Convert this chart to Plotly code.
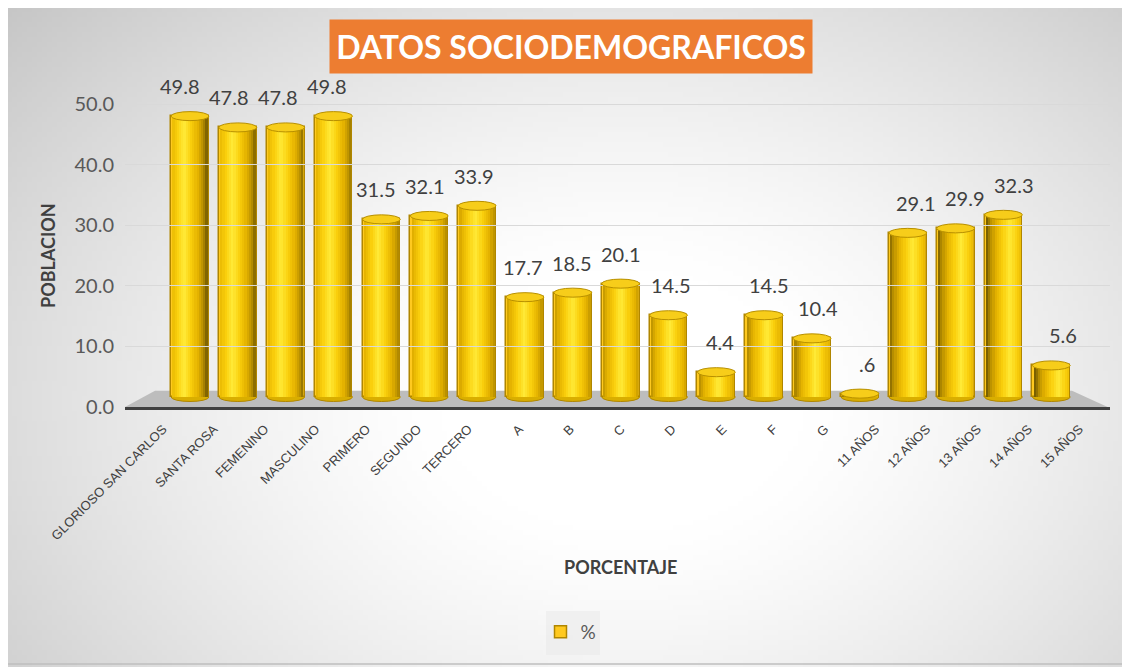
import plotly.graph_objects as go
import zlib, struct, base64, math

# ---------------- data ----------------
categories = ["GLORIOSO SAN CARLOS", "SANTA ROSA", "FEMENINO", "MASCULINO", "PRIMERO",
              "SEGUNDO", "TERCERO", "A", "B", "C", "D", "E", "F", "G",
              "11 AÑOS", "12 AÑOS", "13 AÑOS", "14 AÑOS", "15 AÑOS"]
values = [49.8, 47.8, 47.8, 49.8, 31.5, 32.1, 33.9, 17.7, 18.5, 20.1,
          14.5, 4.4, 14.5, 10.4, 0.6, 29.1, 29.9, 32.3, 5.6]
y_ticks = [0, 10, 20, 30, 40, 50]
series_name = "%"
title_text = "DATOS SOCIODEMOGRAFICOS"
x_title = "PORCENTAJE"
y_title = "POBLACION"

value_labels = [f"{v:.1f}".lstrip("0") for v in values]
n = len(categories)
idx = list(range(n))

# ---------------- layout geometry (page px) ----------------
W, H = 1130, 667
OFF = 8                      # default body margin of the html page
L, R, T, B = 125, 1110, 80, 407


def xp(px):
    return (px - L) / (R - L)


def yp(py):
    return (B - py) / (B - T)


cat_px0, cat_step = 190.0, 47.85
x_range = [(L - cat_px0) / cat_step, (R - cat_px0) / cat_step]
lab_px0, lab_step = 163.0, 50.9
x2_range = [(L - lab_px0) / lab_step, (R - lab_px0) / lab_step]
y_range = [0, (B - T) / 6.06]
bar_px0, bar_scale = 397.0, 5.64
y2_range = [-(B - bar_px0) / bar_scale, (bar_px0 - T) / bar_scale]

BW = 0.79           # bar width (category units)
E = 0.8             # ellipse half height (y2 units)


# ---------------- background gradient image ----------------
def make_png(w, h, rows):
    raw = b"".join(b"\x00" + bytes(r) for r in rows)

    def chunk(tag, data):
        c = struct.pack(">I", len(data)) + tag + data
        return c + struct.pack(">I", zlib.crc32(tag + data) & 0xffffffff)

    return (b"\x89PNG\r\n\x1a\n" + chunk(b"IHDR", struct.pack(">IIBBBBB", w, h, 8, 0, 0, 0, 0))
            + chunk(b"IDAT", zlib.compress(raw, 9)) + chunk(b"IEND", b""))


sc = 5
gw, gh = W // sc, H // sc + 1
rows = []
for j in range(gh):
    row = []
    for i in range(gw):
        px, py = i * sc, j * sc
        d = math.sqrt(((px - 620) / 620) ** 2 + ((py - 400) / 450) ** 2)
        g = 255 - 55 * max(0.0, d - 0.3) ** 1.27
        row.append(int(max(190, min(255, g))))
    rows.append(row)
bg_uri = "data:image/png;base64," + base64.b64encode(make_png(gw, gh, rows)).decode()


# ---------------- cylinder shading ----------------
def lerp(a, b, t):
    return a + (b - a) * t


stops = [(0.0, (255, 234, 55)), (0.3, (250, 207, 12)), (0.6, (228, 178, 0)),
         (0.85, (180, 140, 0)), (1.0, (122, 96, 0))]


def shade(t):
    t = max(0.0, min(1.0, t))
    for (t0, c0), (t1, c1) in zip(stops[:-1], stops[1:]):
        if t <= t1:
            f = (t - t0) / (t1 - t0)
            return "rgb(%d,%d,%d)" % tuple(round(lerp(a, b, f)) for a, b in zip(c0, c1))
    return "rgb(%d,%d,%d)" % stops[-1][1]


fig = go.Figure()

# base bar (legend item + outline)
fig.add_trace(go.Bar(
    x=idx, y=values, width=BW, name=series_name, yaxis="y2",
    marker=dict(color="#FFC91F", line=dict(color="#B08600", width=1.5)),
    hoverinfo="skip", showlegend=True,
))

NS = 16
inset = 0.025
sw = (BW - 2 * inset) / NS
for k in range(NS):
    u = (k + 0.5) / NS
    cols = []
    for i in range(n):
        h = 0.33 + 0.37 * i / (n - 1)
        cols.append(shade(abs(u - h) / 0.65))
    fig.add_trace(go.Bar(
        x=idx, y=values, yaxis="y2",
        offset=-BW / 2 + inset + k * sw, width=sw * (1.25 if k < NS - 1 else 1.0),
        marker=dict(color=cols, line=dict(width=0)),
        hoverinfo="skip", showlegend=False,
    ))

# invisible trace so that the tick-label axis (x2) and value axis (y) are drawn
fig.add_trace(go.Scatter(x=idx, y=values, xaxis="x2", yaxis="y", mode="markers",
                         marker=dict(opacity=0), hoverinfo="skip", showlegend=False))

shapes = []
# floor
shapes.append(dict(type="path", xref="x", yref="y2",
                   path=f"M {x_range[0]},{y2_range[0]} L {(155 - cat_px0) / cat_step},1.1 "
                        f"L {(1072 - cat_px0) / cat_step},1.1 L {x_range[1] - 0.05},{y2_range[0]} Z",
                   fillcolor="#BDBDBD", line=dict(width=0), layer="between"))
# bottom ellipses
for i, v in enumerate(values):
    shapes.append(dict(type="circle", xref="x", yref="y2",
                       x0=i - BW / 2, x1=i + BW / 2, y0=-E, y1=E,
                       fillcolor="#D9AE00", line=dict(color="#B08600", width=1), layer="between"))
# top ellipses
for i, v in enumerate(values):
    shapes.append(dict(type="circle", xref="x", yref="y2",
                       x0=i - BW / 2, x1=i + BW / 2, y0=v - E, y1=v + E,
                       fillcolor="#F7CD1A", line=dict(color="#B89000", width=1), layer="above"))
# outer border
shapes.append(dict(type="rect", xref="paper", yref="paper",
                   x0=xp(6), x1=xp(1124), y0=yp(4), y1=yp(664),
                   line=dict(color="#BFBFBF", width=1.5), fillcolor="rgba(0,0,0,0)", layer="above"))
# legend backdrop
shapes.append(dict(type="rect", xref="paper", yref="paper",
                   x0=xp(546), x1=xp(600), y0=yp(611), y1=yp(655),
                   line=dict(width=0), fillcolor="rgba(225,225,225,0.35)", layer="below"))

annotations = []
for i, (v, lab) in enumerate(zip(values, value_labels)):
    annotations.append(dict(x=i, y=v, xref="x", yref="y2", text=lab, showarrow=False,
                            yanchor="bottom", yshift=16, xshift=-10 + i * 1.2,
                            font=dict(family="Lato", size=20, color="#404040")))
annotations.append(dict(x=xp(571), y=yp(46.5), xref="paper", yref="paper",
                        text=f"<b>{title_text}</b>", showarrow=False,
                        xanchor="center", yanchor="middle", bgcolor="#ED7D31",
                        width=482, height=53, borderpad=0,
                        font=dict(family="Lato", size=32, color="white")))
annotations.append(dict(x=xp(620), y=yp(567), xref="paper", yref="paper",
                        text=f"<b>{x_title}</b>", showarrow=False,
                        xanchor="center", yanchor="middle",
                        font=dict(family="Lato", size=18, color="#404040")))
annotations.append(dict(x=xp(48), y=yp(256), xref="paper", yref="paper",
                        text=f"<b>{y_title}</b>", showarrow=False, textangle=-90,
                        xanchor="center", yanchor="middle",
                        font=dict(family="Lato", size=18, color="#404040")))

fig.update_layout(
    width=W - OFF, height=H - OFF,
    margin=dict(l=L - OFF, r=W - R, t=T - OFF, b=H - B, pad=0),
    paper_bgcolor="white", plot_bgcolor="rgba(0,0,0,0)",
    barmode="overlay", bargap=0,
    showlegend=True,
    legend=dict(x=xp(571), y=yp(632), xanchor="center", yanchor="middle",
                orientation="h", bgcolor="rgba(0,0,0,0)", itemwidth=30,
                font=dict(family="Lato", size=19, color="#595959")),
    xaxis=dict(range=x_range, showticklabels=False, showgrid=False, zeroline=False,
               showline=True, linecolor="#404040", linewidth=3, ticks=""),
    xaxis2=dict(range=x2_range, overlaying="x", anchor="y", side="bottom",
                tickmode="array", tickvals=idx, ticktext=categories, tickangle=-45,
                tickfont=dict(family="Liberation Sans", size=13, color="#404040"),
                showgrid=False, zeroline=False, showline=False, ticks="",
                ticklabelstandoff=11),
    yaxis=dict(range=y_range, tickmode="array", tickvals=y_ticks, tickformat=".1f",
               tickfont=dict(family="Lato", size=20, color="#595959"),
               showgrid=True, gridcolor="#D9D9D9", gridwidth=1, zeroline=False,
               showline=False, ticks="", ticklabelstandoff=10),
    yaxis2=dict(range=y2_range, overlaying="y", visible=False),
    shapes=shapes, annotations=annotations,
    images=[dict(source=bg_uri, xref="paper", yref="paper", x=xp(0), y=yp(0),
                 sizex=W / (R - L), sizey=H / (B - T), xanchor="left", yanchor="top",
                 sizing="stretch", layer="below")],
    hovermode=False,
)

fig.write_html("out.html")
